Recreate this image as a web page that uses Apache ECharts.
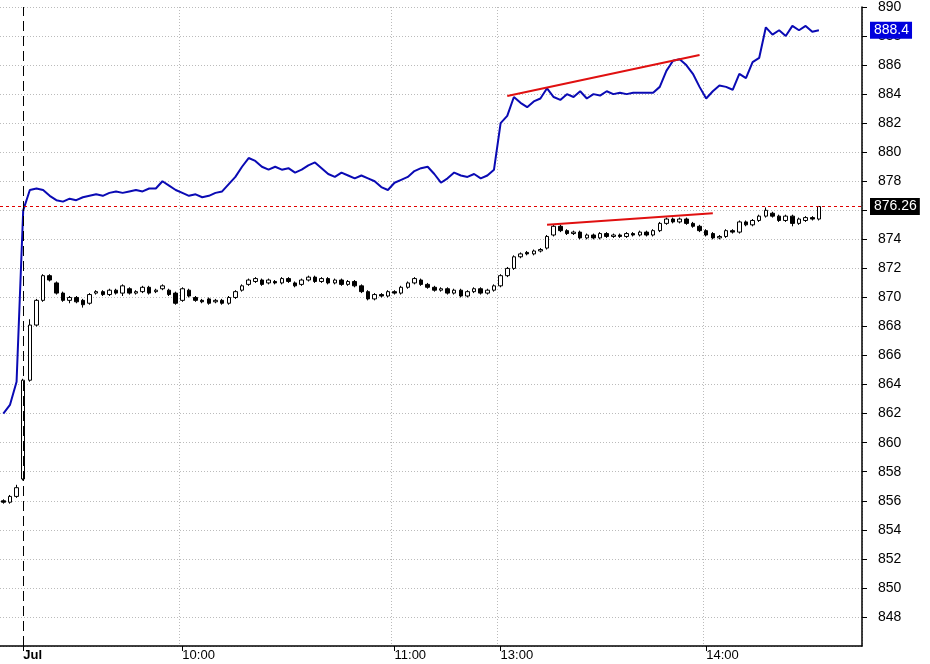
<!DOCTYPE html>
<html lang="en">
<head>
<meta charset="UTF-8" />
<title>Intraday</title>
<script src="https://cdn.jsdelivr.net/npm/echarts@6/dist/echarts.min.js"></script>
<style>
  body { margin: 0; padding: 0; background: #fff; }
  #chart { width: 930px; height: 664px; }
</style>
</head>
<body>
<div id="chart"></div>
<script>
// candles: [open, close, low, high]
const candles = [
  [856.0,855.9,855.8,856.1],[855.9,856.3,855.8,856.4],[856.3,856.9,856.2,857.1],[857.5,864.3,857.4,864.4],
  [864.3,868.1,864.2,868.5],[868.1,869.8,868.0,869.9],[869.8,871.5,869.7,871.6],[871.5,871.2,871.1,871.6],
  [871.0,870.3,870.2,871.1],[870.3,869.8,869.7,870.4],[869.8,870.0,869.6,870.1],[870.0,869.7,869.6,870.1],
  [869.8,869.5,869.3,869.9],[869.6,870.2,869.5,870.3],[870.3,870.4,870.2,870.5],[870.4,870.2,870.1,870.5],
  [870.2,870.5,870.1,870.6],[870.5,870.3,870.2,870.6],[870.3,870.8,870.1,870.9],[870.6,870.3,870.2,870.7],
  [870.3,870.4,870.2,870.5],[870.4,870.7,870.3,870.8],[870.7,870.3,870.2,870.8],[870.4,870.5,870.3,870.6],
  [870.6,870.8,870.5,870.9],[870.5,870.2,870.1,870.6],[870.3,869.6,869.5,870.4],[869.8,870.6,869.7,870.7],
  [870.5,870.1,870.0,870.6],[870.0,869.8,869.7,870.1],[869.8,869.7,869.6,869.9],[869.9,869.6,869.5,870.0],
  [869.7,869.8,869.6,869.9],[869.8,869.6,869.5,869.9],[869.6,870.0,869.5,870.1],[870.0,870.4,869.9,870.5],
  [870.5,870.8,870.4,870.9],[870.9,871.2,870.8,871.3],[871.1,871.3,871.0,871.4],[871.2,870.9,870.8,871.3],
  [871.0,871.2,870.9,871.3],[871.1,871.0,870.9,871.2],[871.0,871.3,870.9,871.4],[871.3,871.1,871.0,871.4],
  [871.0,870.8,870.7,871.1],[870.9,871.2,870.8,871.3],[871.2,871.4,871.1,871.5],[871.4,871.1,871.0,871.5],
  [871.1,871.3,871.0,871.4],[871.3,871.0,870.9,871.4],[871.0,871.2,870.9,871.3],[871.2,870.9,870.8,871.3],
  [870.9,871.1,870.8,871.2],[871.1,870.8,870.7,871.2],[870.8,870.4,870.3,870.9],[870.4,869.9,869.8,870.5],
  [869.9,870.2,869.8,870.3],[870.2,870.1,870.0,870.3],[870.1,870.4,870.0,870.5],[870.4,870.3,870.2,870.5],
  [870.3,870.7,870.2,870.8],[870.7,871.0,870.6,871.1],[871.0,871.3,870.9,871.4],[871.2,870.9,870.8,871.3],
  [870.9,870.7,870.6,871.0],[870.7,870.5,870.4,870.8],[870.5,870.6,870.4,870.7],[870.6,870.3,870.2,870.7],
  [870.3,870.5,870.2,870.6],[870.5,870.1,870.0,870.6],[870.1,870.4,870.0,870.5],[870.4,870.6,870.3,870.7],
  [870.6,870.3,870.2,870.7],[870.3,870.5,870.2,870.6],[870.5,870.8,870.4,870.9],[870.8,871.5,870.7,871.6],
  [871.5,872.0,871.4,872.1],[872.0,872.8,871.9,872.9],[872.8,873.0,872.7,873.1],[873.1,873.0,872.9,873.2],
  [873.0,873.2,872.9,873.3],[873.2,873.3,873.1,873.4],[873.4,874.2,873.3,874.3],[874.3,874.9,874.2,875.0],
  [874.9,874.6,874.5,875.0],[874.6,874.4,874.3,874.7],[874.4,874.5,874.3,874.6],[874.5,874.1,874.0,874.6],
  [874.1,874.3,874.0,874.4],[874.3,874.1,874.0,874.4],[874.1,874.4,874.0,874.5],[874.4,874.2,874.1,874.5],
  [874.2,874.3,874.1,874.4],[874.3,874.2,874.1,874.4],[874.2,874.4,874.1,874.5],[874.4,874.3,874.2,874.5],
  [874.3,874.5,874.2,874.6],[874.5,874.3,874.2,874.6],[874.3,874.6,874.2,874.7],[874.6,875.1,874.5,875.2],
  [875.1,875.4,875.0,875.5],[875.4,875.2,875.1,875.5],[875.2,875.4,875.1,875.5],[875.4,875.1,875.0,875.5],
  [875.1,874.9,874.8,875.2],[874.9,874.6,874.5,875.0],[874.6,874.3,874.2,874.7],[874.4,874.1,874.0,874.5],
  [874.1,874.2,874.0,874.3],[874.2,874.6,874.1,874.7],[874.6,874.5,874.4,874.7],[874.5,875.2,874.4,875.3],
  [875.2,875.0,874.9,875.3],[875.0,875.3,874.9,875.4],[875.3,875.6,875.2,875.7],[875.6,876.0,875.5,876.2],
  [875.8,875.6,875.5,875.9],[875.6,875.3,875.2,875.7],[875.3,875.6,875.2,875.7],[875.6,875.1,874.9,875.7],
  [875.1,875.4,875.0,875.5],[875.3,875.5,875.2,875.6],[875.5,875.4,875.3,875.6],[875.4,876.26,875.3,876.3]
];
const blueLine = [
  862.0,862.6,864.2,876.0,877.4,877.5,877.4,877.0,876.7,876.6,876.8,876.7,876.9,877.0,877.1,877.0,
  877.2,877.3,877.2,877.3,877.4,877.3,877.5,877.5,878.0,877.7,877.4,877.2,877.0,877.1,876.9,877.0,
  877.2,877.3,877.8,878.3,879.0,879.6,879.4,879.0,878.8,879.0,878.8,878.9,878.6,878.8,879.1,879.3,
  878.9,878.5,878.3,878.6,878.4,878.2,878.4,878.2,878.0,877.6,877.4,877.9,878.1,878.3,878.7,878.9,
  879.0,878.5,877.9,878.2,878.6,878.4,878.3,878.5,878.2,878.4,878.8,882.0,882.5,883.8,883.4,883.1,
  883.5,883.7,884.4,883.8,883.6,884.0,883.8,884.2,883.7,884.0,883.9,884.2,884.0,884.1,884.0,884.1,
  884.1,884.1,884.1,884.5,885.6,886.3,886.4,886.0,885.4,884.5,883.7,884.2,884.6,884.5,884.3,885.4,
  885.1,886.2,886.5,888.6,888.1,888.4,888.0,888.7,888.4,888.7,888.3,888.4
];
const slotCount = 130;
const timeLabels = { 3: 'Jul', 27: '10:00', 59: '11:00', 75: '13:00', 106: '14:00' };
const lastClose = 876.26;
const lastBlue = 888.4;
const blueTrend = [[76, 883.87], [105, 886.7]];
const candleTrend = [[82, 875.0], [107, 875.8]];

const categories = [];
for (let i = 0; i < slotCount; i++) categories.push(String(i));

const chart = echarts.init(document.getElementById('chart'));
const font = 'Arial, "Liberation Sans", sans-serif';

chart.setOption({
  animation: false,
  grid: { left: 0, right: 68, top: -4, bottom: 18 },
  xAxis: {
    type: 'category',
    data: categories,
    boundaryGap: true,
    axisLine: { lineStyle: { color: '#000', width: 1.5 } },
    axisTick: {
      show: true, alignWithLabel: true, length: 5, lineStyle: { color: '#000' },
      interval: (i) => timeLabels[i] !== undefined
    },
    axisLabel: {
      interval: (i) => timeLabels[i] !== undefined,
      formatter: (v) => v === '3' ? '{b|Jul}' : (timeLabels[v] || ''),
      align: 'left', margin: 3, color: '#000', fontFamily: font, fontSize: 13,
      rich: { b: { fontWeight: 'bold', fontFamily: font, fontSize: 13, color: '#000' } }
    },
    splitLine: {
      show: true, interval: (i) => timeLabels[i] !== undefined && i !== 3,
      lineStyle: { color: '#bbb', type: [1, 2] }
    }
  },
  yAxis: {
    type: 'value',
    position: 'right',
    min: 846, max: 890, interval: 2,
    axisLine: { show: true, lineStyle: { color: '#000', width: 1.5 } },
    axisTick: { show: true, length: 5, lineStyle: { color: '#000' } },
    axisLabel: {
      color: '#000', fontFamily: font, fontSize: 14, margin: 16,
      showMinLabel: false
    },
    splitLine: { lineStyle: { color: '#bbb', type: [1, 2] } }
  },
  series: [
    {
      type: 'line',
      data: blueLine,
      showSymbol: false,
      lineStyle: { color: '#0a0ab4', width: 2 },
      z: 2,
      markLine: {
        symbol: 'none', silent: true,
        data: [
          [{ coord: blueTrend[0] }, { coord: blueTrend[1] }],
          [{ coord: candleTrend[0] }, { coord: candleTrend[1] }]
        ],
        lineStyle: { color: '#e01010', width: 2, type: 'solid' },
        label: { show: false }
      }
    },
    {
      type: 'candlestick',
      data: candles,
      barWidth: 4,
      itemStyle: {
        color: '#fff', color0: '#000',
        borderColor: '#000', borderColor0: '#000', borderWidth: 1
      },
      z: 3,
      markLine: {
        symbol: 'none', silent: true,
        data: [
          {
            yAxis: lastClose,
            lineStyle: { color: '#e00000', type: [3, 3], width: 1 },
            label: {
              show: true, position: 'end', formatter: lastClose.toFixed(2),
              backgroundColor: '#000', color: '#fff', fontFamily: font, fontSize: 14,
              padding: [2, 3, 1, 4], distance: 8
            }
          },
          {
            yAxis: lastBlue,
            lineStyle: { color: 'rgba(0,0,0,0)', width: 0 },
            label: {
              show: true, position: 'end', formatter: String(lastBlue),
              backgroundColor: '#0000dd', color: '#fff', fontFamily: font, fontSize: 14,
              padding: [2, 3, 1, 4], distance: 8
            }
          },
          {
            xAxis: 3,
            lineStyle: { color: '#000', type: [10, 5], width: 1 },
            label: { show: false }
          }
        ]
      }
    }
  ]
});
</script>
</body>
</html>
